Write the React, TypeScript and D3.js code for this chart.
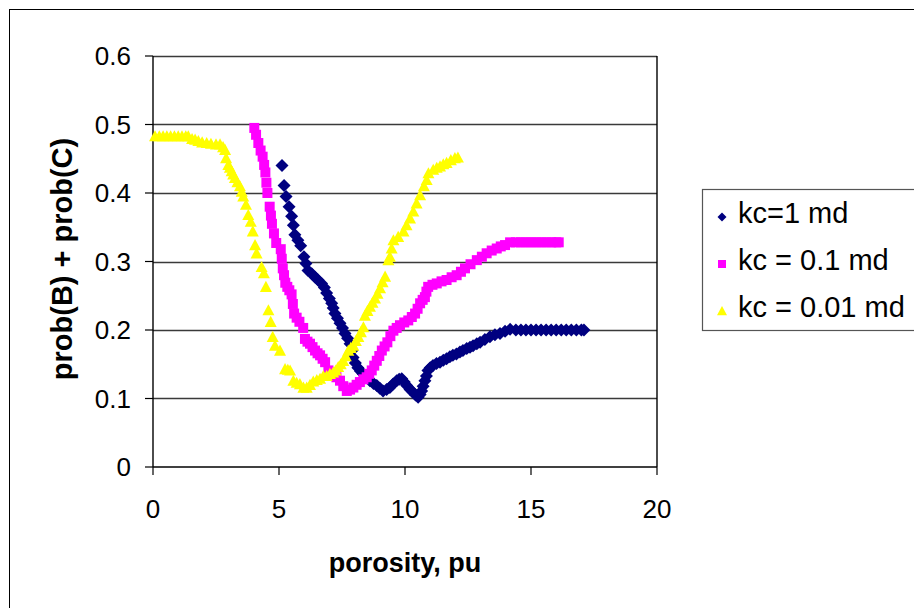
import React, { useEffect, useRef } from "react";
import * as d3 from "d3";

const xTicks = [0, 5, 10, 15, 20];
const yTicks = [0, 0.1, 0.2, 0.3, 0.4, 0.5, 0.6];
const yTickLabels = ["0", "0.1", "0.2", "0.3", "0.4", "0.5", "0.6"];
const seriesNames = ["kc=1 md", "kc = 0.1 md", "kc = 0.01 md"];
const seriesColors = ["#000080", "#FF00FF", "#FFFF00"];
const xTitle = "porosity, pu";
const yTitle = "prob(B) + prob(C)";

const kc1: [number, number][] = [
  [5.12, 0.44], [5.2, 0.411], [5.28, 0.395], [5.4, 0.38], [5.5, 0.366], [5.57, 0.353], [5.63, 0.339],
  [5.75, 0.331], [5.86, 0.323], [5.99, 0.307], [6.07, 0.297], [6.15, 0.287], [6.3, 0.282], [6.43, 0.277],
  [6.55, 0.273], [6.69, 0.268], [6.8, 0.262], [6.89, 0.254], [7.0, 0.246], [7.09, 0.239], [7.15, 0.232],
  [7.22, 0.224], [7.32, 0.217], [7.42, 0.21], [7.52, 0.203], [7.62, 0.195], [7.72, 0.188], [7.82, 0.18],
  [7.9, 0.17], [7.94, 0.16], [8.03, 0.152], [8.13, 0.145], [8.23, 0.14], [8.33, 0.136], [8.47, 0.131],
  [8.61, 0.126], [8.75, 0.122], [8.88, 0.119], [9.0, 0.115], [9.13, 0.111], [9.27, 0.113], [9.4, 0.116],
  [9.53, 0.121], [9.67, 0.126], [9.77, 0.128], [9.87, 0.129], [9.97, 0.124], [10.07, 0.119], [10.2, 0.113],
  [10.32, 0.109], [10.42, 0.105], [10.52, 0.102], [10.6, 0.106], [10.66, 0.111], [10.72, 0.118], [10.79, 0.126],
  [10.85, 0.133], [10.91, 0.141], [11.0, 0.145], [11.11, 0.148], [11.25, 0.151], [11.39, 0.153], [11.52, 0.156],
  [11.65, 0.158], [11.78, 0.161], [11.9, 0.163], [12.04, 0.165], [12.18, 0.168], [12.3, 0.17], [12.45, 0.173],
  [12.58, 0.175], [12.7, 0.177], [12.85, 0.18], [12.98, 0.182], [13.17, 0.186], [13.37, 0.19], [13.57, 0.193],
  [13.77, 0.195], [13.97, 0.198], [14.17, 0.201], [14.4, 0.2], [14.6, 0.2], [14.8, 0.2], [15.0, 0.2],
  [15.2, 0.2], [15.4, 0.2], [15.6, 0.2], [15.8, 0.2], [16.0, 0.2], [16.2, 0.2], [16.4, 0.2], [16.6, 0.2],
  [16.8, 0.2], [17.0, 0.2], [17.1, 0.2],
];

const kc01: [number, number][] = [
  [4.02, 0.495], [4.09, 0.485], [4.18, 0.473], [4.27, 0.462], [4.35, 0.453], [4.41, 0.441], [4.46, 0.43],
  [4.5, 0.415], [4.54, 0.4], [4.63, 0.38], [4.68, 0.367], [4.72, 0.355], [4.8, 0.341], [4.89, 0.327],
  [5.07, 0.318], [5.11, 0.304], [5.15, 0.29], [5.2, 0.28], [5.25, 0.269], [5.33, 0.263], [5.41, 0.258],
  [5.5, 0.252], [5.55, 0.238], [5.6, 0.224], [5.7, 0.218], [5.81, 0.212], [5.96, 0.203], [6.03, 0.187],
  [6.13, 0.183], [6.23, 0.18], [6.33, 0.175], [6.43, 0.17], [6.53, 0.166], [6.63, 0.163], [6.73, 0.158],
  [6.83, 0.153], [6.96, 0.141], [7.05, 0.138], [7.15, 0.136], [7.28, 0.131], [7.42, 0.126], [7.55, 0.118],
  [7.69, 0.111], [7.82, 0.113], [7.95, 0.116], [8.08, 0.12], [8.21, 0.124], [8.35, 0.128], [8.48, 0.131],
  [8.58, 0.136], [8.68, 0.141], [8.78, 0.148], [8.88, 0.155], [8.98, 0.162], [9.08, 0.17], [9.19, 0.176],
  [9.3, 0.182], [9.42, 0.191], [9.54, 0.199], [9.67, 0.203], [9.8, 0.207], [9.97, 0.211], [10.13, 0.214],
  [10.27, 0.219], [10.4, 0.224], [10.5, 0.231], [10.6, 0.239], [10.7, 0.244], [10.79, 0.248], [10.85, 0.256],
  [10.92, 0.263], [11.09, 0.266], [11.26, 0.268], [11.45, 0.271], [11.65, 0.273], [11.85, 0.277], [12.05, 0.28],
  [12.22, 0.285], [12.38, 0.29], [12.6, 0.296], [12.85, 0.302], [13.05, 0.307], [13.24, 0.312], [13.44, 0.316],
  [13.64, 0.319], [13.8, 0.322], [13.97, 0.324], [14.17, 0.328], [14.4, 0.328], [14.6, 0.328], [14.8, 0.328],
  [15.0, 0.328], [15.2, 0.328], [15.4, 0.328], [15.6, 0.328], [15.8, 0.328], [16.0, 0.328], [16.1, 0.328],
];

const kc001: [number, number][] = [
  [0.08, 0.483], [0.25, 0.483], [0.4, 0.483], [0.55, 0.483], [0.7, 0.483], [0.85, 0.483], [1.0, 0.483],
  [1.15, 0.483], [1.3, 0.483], [1.4, 0.483], [1.55, 0.479], [1.67, 0.478], [1.8, 0.476], [1.95, 0.474],
  [2.13, 0.473], [2.3, 0.472], [2.5, 0.471], [2.66, 0.471], [2.78, 0.467], [2.86, 0.463], [2.9, 0.451],
  [2.99, 0.441], [3.05, 0.437], [3.12, 0.432], [3.18, 0.427], [3.25, 0.422], [3.35, 0.416], [3.45, 0.41],
  [3.52, 0.402], [3.58, 0.395], [3.69, 0.383], [3.78, 0.368], [3.88, 0.358], [3.96, 0.344], [4.05, 0.324],
  [4.11, 0.312], [4.31, 0.292], [4.4, 0.283], [4.48, 0.263], [4.58, 0.229], [4.67, 0.212], [4.75, 0.19],
  [4.84, 0.177], [5.04, 0.17], [5.24, 0.143], [5.35, 0.142], [5.44, 0.141], [5.57, 0.126], [5.7, 0.123],
  [5.83, 0.121], [5.97, 0.116], [6.1, 0.116], [6.23, 0.12], [6.36, 0.125], [6.5, 0.127], [6.63, 0.129],
  [6.76, 0.133], [6.89, 0.133], [7.02, 0.136], [7.15, 0.138], [7.25, 0.141], [7.35, 0.146], [7.45, 0.15],
  [7.55, 0.155], [7.65, 0.162], [7.75, 0.17], [7.85, 0.174], [7.95, 0.177], [8.05, 0.184], [8.15, 0.19],
  [8.25, 0.197], [8.35, 0.204], [8.41, 0.221], [8.51, 0.228], [8.61, 0.234], [8.71, 0.24], [8.81, 0.246],
  [8.91, 0.253], [9.01, 0.261], [9.11, 0.27], [9.21, 0.278], [9.34, 0.302], [9.4, 0.307], [9.47, 0.319],
  [9.54, 0.331], [9.73, 0.336], [9.94, 0.344], [10.06, 0.353], [10.2, 0.363], [10.33, 0.373], [10.46, 0.385],
  [10.6, 0.397], [10.75, 0.41], [10.86, 0.419], [10.93, 0.429], [11.12, 0.434], [11.26, 0.437], [11.39, 0.439],
  [11.52, 0.442], [11.65, 0.444], [11.82, 0.448], [11.98, 0.451], [12.1, 0.452],
];

const FONT = "'Liberation Sans', Arial, Helvetica, sans-serif";

// kind 0: diamond, 1: square, 2: triangle; s = full width in px
function markerPath(kind: number, s: number): string {
  const h = s / 2;
  if (kind === 0) return `M0,${-h}L${h},0L0,${h}L${-h},0Z`;
  if (kind === 1) return `M${-h},${-h}H${h}V${h}H${-h}Z`;
  return `M0,${-h}L${h},${h * 0.85}L${-h},${h * 0.85}Z`;
}

export default function App() {
  const ref = useRef<SVGSVGElement>(null);

  useEffect(() => {
    const svg = d3.select(ref.current);
    svg.selectAll("*").remove();

    const x = d3.scaleLinear().domain([0, 20]).range([153, 657]);
    const y = d3.scaleLinear().domain([0, 0.6]).range([467, 56]);

    svg.append("rect").attr("x", 9.5).attr("y", 9.5).attr("width", 920).attr("height", 620)
      .attr("fill", "white").attr("stroke", "#000").attr("stroke-width", 1);

    svg.append("g").selectAll("line").data(yTicks.slice(1)).join("line")
      .attr("x1", x(0)).attr("x2", x(20))
      .attr("y1", (d) => Math.round(y(d)) + 0.5).attr("y2", (d) => Math.round(y(d)) + 0.5)
      .attr("stroke", "#3a3a3a").attr("stroke-width", 1.4);

    svg.append("line").attr("x1", x(20)).attr("x2", x(20)).attr("y1", y(0.6)).attr("y2", y(0))
      .attr("stroke", "#000").attr("stroke-width", 1.4);

    const axisG = svg.append("g");
    axisG.append("line").attr("x1", x(0)).attr("x2", x(0)).attr("y1", y(0.6)).attr("y2", y(0))
      .attr("stroke", "#000").attr("stroke-width", 1.4);
    axisG.append("line").attr("x1", x(0)).attr("x2", x(20)).attr("y1", y(0)).attr("y2", y(0))
      .attr("stroke", "#000").attr("stroke-width", 1.4);
    axisG.selectAll(".yt").data(yTicks).join("line")
      .attr("x1", x(0) - 8).attr("x2", x(0))
      .attr("y1", (d) => y(d)).attr("y2", (d) => y(d))
      .attr("stroke", "#000").attr("stroke-width", 1.2);
    axisG.selectAll(".xt").data(xTicks).join("line")
      .attr("x1", (d) => x(d)).attr("x2", (d) => x(d))
      .attr("y1", y(0)).attr("y2", y(0) + 8)
      .attr("stroke", "#000").attr("stroke-width", 1.2);

    svg.append("g").selectAll("text").data(yTicks).join("text")
      .attr("x", 131).attr("y", (d) => y(d)).attr("dy", "0.36em")
      .attr("text-anchor", "end").attr("font-family", FONT).attr("font-size", 26)
      .text((d, i) => yTickLabels[i]);
    svg.append("g").selectAll("text").data(xTicks).join("text")
      .attr("x", (d) => x(d)).attr("y", 509).attr("dy", "0.36em")
      .attr("text-anchor", "middle").attr("font-family", FONT).attr("font-size", 26)
      .text((d) => String(d));

    svg.append("text").attr("x", 405).attr("y", 562).attr("dy", "0.36em")
      .attr("text-anchor", "middle").attr("font-family", FONT).attr("font-weight", "bold")
      .attr("font-size", 27).text(xTitle);
    svg.append("text").attr("transform", "translate(62,259) rotate(-90)").attr("dy", "0.36em")
      .attr("text-anchor", "middle").attr("font-family", FONT).attr("font-weight", "bold")
      .attr("font-size", 29).text(yTitle);

    const allSeries = [kc1, kc01, kc001];
    const sizes = [13, 10, 12];
    allSeries.forEach((pts, k) => {
      svg.append("g").selectAll("path").data(pts).join("path")
        .attr("transform", (d) => `translate(${x(d[0])},${y(d[1])})`)
        .attr("d", markerPath(k, sizes[k]))
        .attr("fill", seriesColors[k]);
    });

    const lg = svg.append("g");
    lg.append("rect").attr("x", 702.5).attr("y", 189.5).attr("width", 260).attr("height", 141)
      .attr("fill", "white").attr("stroke", "#555").attr("stroke-width", 1.2);
    const rowsY = [213, 260, 307];
    const legSizes = [9, 8, 10];
    seriesNames.forEach((name, k) => {
      lg.append("path").attr("transform", `translate(722,${rowsY[k] + 4})`)
        .attr("d", markerPath(k, legSizes[k]))
        .attr("fill", seriesColors[k]);
      lg.append("text").attr("x", 738).attr("y", rowsY[k]).attr("dy", "0.36em")
        .attr("font-family", FONT).attr("font-size", 29).text(name);
    });
  }, []);

  return (
    <svg ref={ref} width={914} height={608} style={{ position: "absolute", left: 0, top: 0, background: "white" }} />
  );
}
